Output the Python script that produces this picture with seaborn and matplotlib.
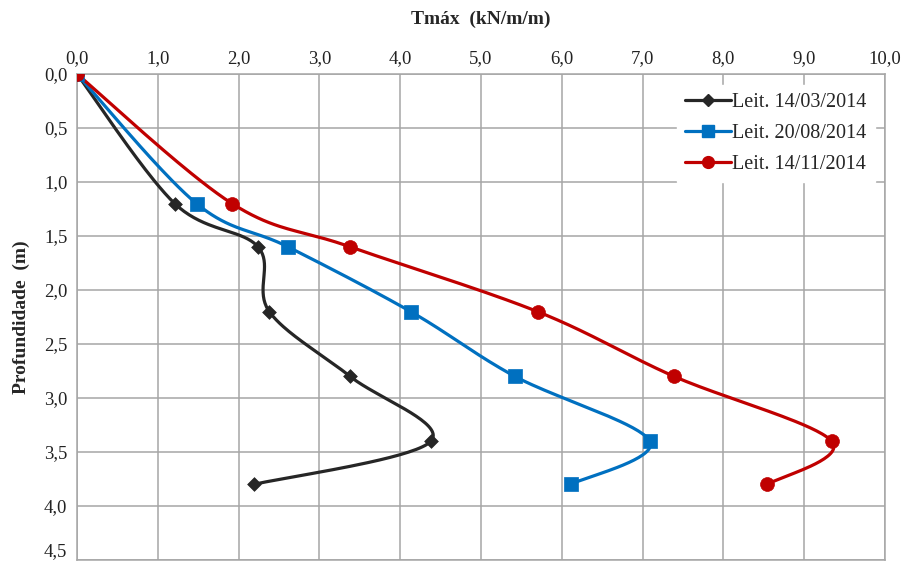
import numpy as np
import pandas as pd
import matplotlib
matplotlib.use("Agg")
import matplotlib.pyplot as plt
from matplotlib.lines import Line2D
import seaborn as sns

# Depth of each reading (m)
depth = [0.0, 1.2, 1.6, 2.2, 2.8, 3.4, 3.8]
# Maximum tension Tmáx (kN/m/m) for each reading campaign
t_mar = [0.0, 1.21, 2.24, 2.38, 3.38, 4.38, 2.19]
t_ago = [0.0, 1.48, 2.61, 4.13, 5.42, 7.09, 6.11]
t_nov = [0.0, 1.92, 3.38, 5.70, 7.39, 9.34, 8.54]

series_names = ["Leit. 14/03/2014", "Leit. 20/08/2014", "Leit. 14/11/2014"]
colors = ["#262626", "#0070C0", "#C00000"]
markers = ["D", "s", "o"]
marker_sizes = [7, 10, 10]

x_ticks = [0, 1, 2, 3, 4, 5, 6, 7, 8, 9, 10]
y_ticks = [0.0, 0.5, 1.0, 1.5, 2.0, 2.5, 3.0, 3.5, 4.0, 4.5]

sns.set_theme(style="white")
plt.rcParams["font.family"] = ["Liberation Serif", "DejaVu Serif"]

frames = []
for name, vals in zip(series_names, [t_mar, t_ago, t_nov]):
    frames.append(pd.DataFrame({"T": vals, "z": depth, "serie": name}))
df = pd.concat(frames, ignore_index=True)

fig = plt.figure(figsize=(9.07, 5.68), dpi=100)
ax = fig.add_axes([0.0849, 0.0141, 0.8908, 0.8556])


def smooth(xs, ys, yscale=1.34, n=40):
    """Bezier smoothing through the points (Catmull-Rom style control points)."""
    P = np.column_stack([np.asarray(xs, float), np.asarray(ys, float) * yscale])
    out = [P[0]]
    m = len(P)
    for i in range(m - 1):
        p0 = P[i - 1] if i > 0 else P[i]
        p1, p2 = P[i], P[i + 1]
        p3 = P[i + 2] if i + 2 < m else P[i + 1]
        c1 = p1 + (p2 - p0) / 6.0
        c2 = p2 - (p3 - p1) / 6.0
        t = np.linspace(0, 1, n)[1:, None]
        seg = ((1 - t) ** 3) * p1 + 3 * ((1 - t) ** 2) * t * c1 + 3 * (1 - t) * t ** 2 * c2 + t ** 3 * p2
        out.extend(seg)
    out = np.array(out)
    return out[:, 0], out[:, 1] / yscale


handles = []
for name, c, mk, ms in zip(series_names, colors, markers, marker_sizes):
    sub = df[df["serie"] == name]
    sx, sy = smooth(sub["T"].values, sub["z"].values)
    ax.plot(sx, sy, color=c, lw=2.3, zorder=3, solid_capstyle="round")
    sns.scatterplot(data=sub, x="T", y="z", ax=ax, color=c, marker=mk,
                    s=ms ** 2, edgecolor=c, linewidth=0.5, zorder=4, legend=False)
    handles.append(Line2D([0], [0], color=c, lw=2.3, marker=mk, markersize=ms * 0.85,
                          markeredgecolor=c, label=name))

ax.set_ylim(4.5, 0)
ax.set_xlim(0, 10)

ax.xaxis.tick_top()
ax.xaxis.set_label_position("top")
ax.set_xticks(x_ticks)
ax.set_xticklabels([f"{v:.1f}".replace(".", ",") for v in x_ticks], fontsize=13.5, color="#222222")
ax.set_yticks(y_ticks)
ylabels = ax.set_yticklabels([f"{v:.1f}".replace(".", ",") for v in y_ticks], fontsize=13.5, color="#222222")
# keep the bottom tick label inside the canvas
ylabels[-1].set_verticalalignment("bottom")
ax.tick_params(axis="x", pad=5, length=0)
ax.tick_params(axis="y", pad=7, length=0)

ax.set_xlabel("Tmáx  (kN/m/m)", fontsize=14, fontweight="bold", labelpad=19)
ax.set_ylabel("Profundidade  (m)", fontsize=14, fontweight="bold", labelpad=10)

ax.grid(True, color="#a6a6a6", lw=1.1)
ax.set_axisbelow(True)
for sp in ax.spines.values():
    sp.set_color("#a6a6a6")
    sp.set_linewidth(1.1)

leg = ax.legend(handles=handles, loc="upper right", bbox_to_anchor=(0.995, 0.99),
                fontsize=14.5, frameon=True, framealpha=1, edgecolor="white",
                facecolor="white", handlelength=2.3, handletextpad=0.05,
                labelspacing=0.6, borderaxespad=0.3, borderpad=0.4, fancybox=False)
leg.set_zorder(5)

fig.savefig("out.png", dpi=100)
